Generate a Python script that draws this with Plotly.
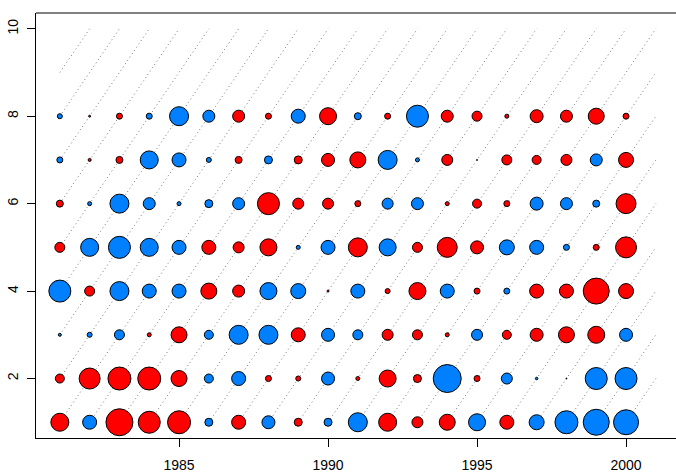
import plotly.graph_objects as go

# Survey years and ages on the bubble grid
years = list(range(1981, 2001))
ages = [1, 2, 3, 4, 5, 6, 7, 8]

# Residuals by age (rows) and year (columns); sign sets the colour, magnitude the size
resid_age1 = [1.9, -1.5, 2.8, 2.3, 2.4, -0.9, 1.5, -1.4, 0.9, -0.9, -2.0, 1.9, 1.2, 1.7, -1.8, 1.5, -1.6, -2.4, -2.7, -2.6]
resid_age2 = [1.0, 2.2, 2.4, 2.4, 1.7, -1.0, -1.5, 0.7, 0.6, -1.4, 0.5, 1.8, 0.9, -2.9, 0.7, -1.2, -0.35, 0.2, -2.3, -2.3]
resid_age3 = [-0.4, -0.6, -1.1, 0.5, 1.7, -1.0, -2.0, -2.0, 1.5, -1.4, -1.1, 1.2, 1.1, 0.5, -1.2, 1.0, 1.4, 1.7, 1.8, -1.4]
resid_age4 = [-2.3, 1.1, -2.0, -1.5, -1.5, 1.7, 1.3, -1.8, -1.6, 0.3, -1.5, 0.6, 1.8, -1.5, 0.7, -0.7, 1.5, 1.5, 2.7, 1.6]
resid_age5 = [1.1, -1.9, -2.3, -1.9, -1.5, 1.5, 1.2, 1.8, -0.5, -1.5, 2.0, -1.8, 1.1, 2.1, 1.4, -1.6, -1.5, -0.7, 0.7, 2.2]
resid_age6 = [0.8, -0.5, -2.0, -1.3, -0.5, -0.9, -1.3, 2.3, 1.2, 1.2, 0.7, -1.2, -1.3, 0.5, 1.0, 0.7, -1.4, -1.3, -0.8, 2.1]
resid_age7 = [-0.7, 0.4, 0.8, -1.9, -1.5, -0.6, 0.8, -0.9, 0.9, 1.4, 1.7, -2.0, -0.5, 1.2, -0.2, 1.1, 1.0, 1.2, -1.3, 1.6]
resid_age8 = [-0.6, 0.3, 0.7, -0.7, -2.0, -1.3, 1.3, 0.7, -1.5, 1.8, -0.8, 0.7, -2.3, 1.3, 1.1, 0.5, 1.4, 1.3, 1.7, 0.7]
residuals = [resid_age1, resid_age2, resid_age3, resid_age4, resid_age5,
             resid_age6, resid_age7, resid_age8]

# Extent of the cohort guide lines (year - age = constant)
cohort_years = (1981, 2001)
cohort_ages = (1, 10)

x_ticks = [1985, 1990, 1995, 2000]
y_ticks = [2, 4, 6, 8, 10]

POS_COLOR = "#ff0000"
NEG_COLOR = "#0080ff"
PX_PER_UNIT = 10.0

fig = go.Figure()

# Dotted diagonal cohort lines
lx, ly = [], []
y0, y1 = cohort_ages
x0, x1 = cohort_years
for c in range(x0 - y1 + 1, x1 - y0):
    xs = max(x0, c + y0)
    xe = min(x1, c + y1)
    if xe <= xs:
        continue
    lx += [xs, xe, None]
    ly += [xs - c, xe - c, None]
fig.add_trace(go.Scatter(
    x=lx, y=ly, mode="lines", hoverinfo="skip",
    line=dict(color="#7a7a7a", width=1, dash="1px,3px"),
    showlegend=False,
))

# Bubbles
bx, by, bs, bc = [], [], [], []
for age, row in zip(ages, residuals):
    for yr, v in zip(years, row):
        bx.append(yr)
        by.append(age)
        bs.append(max(PX_PER_UNIT * abs(v) - 1, 1))
        bc.append(POS_COLOR if v >= 0 else NEG_COLOR)
fig.add_trace(go.Scatter(
    x=bx, y=by, mode="markers", showlegend=False,
    marker=dict(size=bs, sizemode="diameter", color=bc, opacity=1,
                line=dict(color="black", width=1)),
))

font = dict(family="Liberation Sans, Arial, sans-serif", size=14, color="black")

fig.update_layout(
    width=676, height=472,
    margin=dict(l=36, r=0, t=13, b=34),
    paper_bgcolor="white", plot_bgcolor="white",
    font=font,
    xaxis=dict(
        range=[1980.2, 1980.2 + 640 / 29.8],
        tickvals=x_ticks, ticks="outside", ticklen=8, tickcolor="black",
        ticklabelstandoff=6,
        showgrid=False, zeroline=False, showline=True, linecolor="black",
        linewidth=1, tickfont=font,
    ),
    yaxis=dict(
        range=[0.64, 10.36],
        tickvals=y_ticks, ticks="outside", ticklen=8, tickcolor="black",
        tickangle=-90, ticklabelstandoff=3,
        showgrid=False, zeroline=False, showline=True, linecolor="black",
        linewidth=1, tickfont=font,
    ),
    shapes=[dict(type="line", xref="paper", yref="paper", x0=0, x1=1, y0=1, y1=1,
                 line=dict(color="black", width=1))],
)

fig.write_html("out.html")
